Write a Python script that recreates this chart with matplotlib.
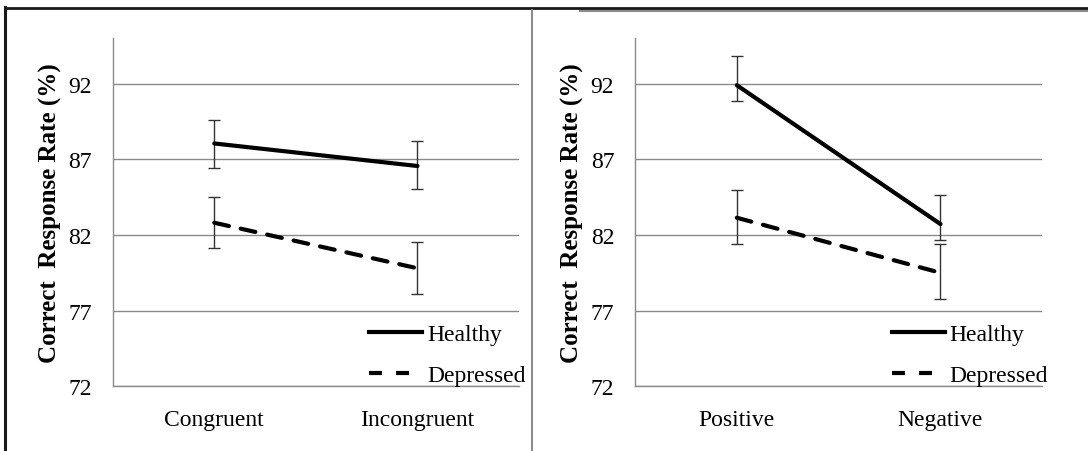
import matplotlib
matplotlib.use("Agg")
import matplotlib.pyplot as plt
from matplotlib.lines import Line2D

plt.rcParams['font.family'] = ['Liberation Serif', 'DejaVu Serif']

# ---- data ----
categories_left = ['Congruent', 'Incongruent']
healthy_left = [88.05, 86.56]
healthy_left_err_low = [1.6, 1.52]
healthy_left_err_up = [1.58, 1.64]
depressed_left = [82.81, 79.8]
depressed_left_err_low = [1.65, 1.68]
depressed_left_err_up = [1.72, 1.74]

categories_right = ['Positive', 'Negative']
healthy_right = [91.9, 82.72]
healthy_right_err_low = [1.06, 1.05]
healthy_right_err_up = [1.9, 1.92]
depressed_right = [83.14, 79.5]
depressed_right_err_low = [1.75, 1.74]
depressed_right_err_up = [1.86, 1.88]

yticks = [72, 77, 82, 87, 92]
ylabel = 'Correct  Response Rate (%)'
series_names = ['Healthy', 'Depressed']

W, H = 1088, 452
fig = plt.figure(figsize=(W / 100, H / 100), dpi=100)

grid_c = '#8a8a8a'
fs = 17
lw = 3.0


def panel(rect, cats, h, hlo, hup, d, dlo, dup):
    ax = fig.add_axes(rect)
    x = list(range(len(cats)))
    ax.set_xlim(-0.5, len(cats) - 0.5)
    ax.set_ylim(72, 95)
    ax.set_yticks(yticks)
    ax.set_xticks(x)
    ax.set_xticklabels(cats, fontsize=fs)
    ax.set_yticklabels([str(v) for v in yticks], fontsize=fs)
    ax.tick_params(axis='x', length=0, pad=16)
    ax.tick_params(axis='y', length=0, pad=15)
    for s in ['top', 'right']:
        ax.spines[s].set_visible(False)
    for s in ['left', 'bottom']:
        ax.spines[s].set_color(grid_c)
        ax.spines[s].set_linewidth(1.0)
    ax.yaxis.grid(True, color=grid_c, linewidth=1.0)
    ax.set_axisbelow(True)
    ax.errorbar(x, h, yerr=[hlo, hup], fmt='none', ecolor='#333333',
                elinewidth=1.0, capsize=4.5, capthick=1.0, zorder=3)
    ax.errorbar(x, d, yerr=[dlo, dup], fmt='none', ecolor='#333333',
                elinewidth=1.0, capsize=4.5, capthick=1.0, zorder=3)
    ax.plot(x, h, color='black', linewidth=lw, solid_capstyle='round', zorder=4)
    ax.plot(x, d, color='black', linewidth=lw, dashes=(3.6, 2.9),
            dash_capstyle='round', zorder=4)
    ax.set_ylabel(ylabel, fontsize=18, fontweight='bold')
    ax.yaxis.set_label_coords(-0.1255, 0.5)
    handles = [Line2D([], [], color='black', linewidth=lw),
               Line2D([], [], color='black', linewidth=lw, dashes=(3.1, 3.4))]
    ax.legend(handles, series_names, loc='lower left', bbox_to_anchor=(0.631, 0.0),
              frameon=False, borderpad=0, handlelength=2.25, handletextpad=0.2,
              labelspacing=0.84, fontsize=fs, borderaxespad=0)
    return ax


ax1 = panel([112.7 / W, 64.7 / H, 406.3 / W, 348 / H], categories_left,
            healthy_left, healthy_left_err_low, healthy_left_err_up,
            depressed_left, depressed_left_err_low, depressed_left_err_up)
ax2 = panel([635 / W, 64.7 / H, 407.3 / W, 348 / H], categories_right,
            healthy_right, healthy_right_err_low, healthy_right_err_up,
            depressed_right, depressed_right_err_low, depressed_right_err_up)

# outer frame and divider (figure pixel coords)
def fline(xs, ys, color, lw_):
    fig.add_artist(Line2D([v / W for v in xs], [1 - v / H for v in ys],
                          color=color, linewidth=lw_, transform=fig.transFigure))

fline([580, W], [11, 11], '#8c8c8c', 2.2)
fline([4.5, W], [8.7, 8.7], '#1a1a1a', 2.0)
fline([4.8, 4.8], [8, H], '#1a1a1a', 2.2)
fline([532.3, 532.3], [11, H], '#8c8c8c', 1.5)

fig.savefig('out.png', dpi=100)
